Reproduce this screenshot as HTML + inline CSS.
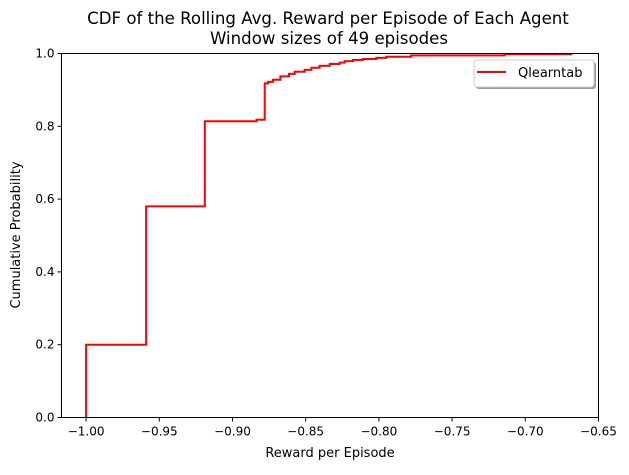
<!DOCTYPE html>
<html><head><meta charset="utf-8"><style>
body{margin:0;background:#fff;font-family:"Liberation Sans","DejaVu Sans",sans-serif;}
svg text{font-family:"DejaVu Sans","Liberation Sans",sans-serif;}
</style></head><body>
<svg id="c" width="629" height="470" viewBox="0 0 629 470" xmlns="http://www.w3.org/2000/svg">
<rect width="629" height="470" fill="#fff"/>
<text x="328" y="24" font-size="16.6" text-anchor="middle">CDF of the Rolling Avg. Reward per Episode of Each Agent</text>
<text x="329" y="44" font-size="16.6" text-anchor="middle">Window sizes of 49 episodes</text>
<g id="ticks"></g>
<path id="cdf" fill="none" stroke="#ff0000" stroke-width="2"/>
<rect x="61.5" y="53.5" width="537" height="364" fill="none" stroke="#000" stroke-width="1"/>
<text x="330" y="457" font-size="13" text-anchor="middle">Reward per Episode</text>
<text x="20" y="235" font-size="13" text-anchor="middle" transform="rotate(-90 20 235)">Cumulative Probability</text>
<g>
<rect x="476" y="62" width="120" height="27" rx="3" fill="#999"/>
<rect x="474" y="60" width="120" height="27" rx="3" fill="#fff" stroke="#ccc"/>
<line x1="477" y1="72" x2="506" y2="72" stroke="#ff0000" stroke-width="2"/>
<text x="518" y="77" font-size="13">Qlearntab</text>
</g>
</svg>
<script>
const stepX=[-1.0,-0.959,-0.9189,-0.8836,-0.878,-0.8757,-0.8723,-0.8673,-0.8614,-0.8575,-0.8507,-0.8461,-0.8405,-0.8336,-0.8268,-0.8234,-0.8177,-0.8109,-0.8018,-0.795,-0.7779,-0.7143];
const stepY=[0.2,0.58,0.814,0.818,0.918,0.922,0.928,0.937,0.944,0.95,0.955,0.961,0.966,0.971,0.975,0.979,0.982,0.985,0.988,0.991,0.995,0.998];
const endX=-0.668;
const xTicks=[-1.00,-0.95,-0.90,-0.85,-0.80,-0.75,-0.70,-0.65];
const yTicks=[0.0,0.2,0.4,0.6,0.8,1.0];
const L=61.5,R=598.5,T=53.5,B=417.5,x0=-1.0168,x1=-0.65;
const sx=v=>L+(v-x0)/(x1-x0)*(R-L);
const sy=v=>B-v*(B-T);
let d=`M${sx(stepX[0])},${sy(0)}`;
for(let i=0;i<stepX.length;i++){d+=` L${sx(stepX[i])},${sy(i?stepY[i-1]:0)} L${sx(stepX[i])},${sy(stepY[i])}`;}
d+=` L${sx(endX)},${sy(stepY[stepY.length-1])}`;
document.getElementById('cdf').setAttribute('d',d);
const g=document.getElementById('ticks');const NS='http://www.w3.org/2000/svg';
xTicks.forEach(v=>{const x=sx(v);
const l=document.createElementNS(NS,'line');l.setAttribute('x1',x);l.setAttribute('x2',x);l.setAttribute('y1',B);l.setAttribute('y2',B+4);l.setAttribute('stroke','#000');


g.appendChild(l);
const t=document.createElementNS(NS,'text');t.setAttribute('x',x);t.setAttribute('y',B+18);t.setAttribute('font-size','12');t.setAttribute('text-anchor','middle');t.textContent=v.toFixed(2).replace('-','\u2212');


g.appendChild(t);});
yTicks.forEach(v=>{const y=sy(v);
const l=document.createElementNS(NS,'line');l.setAttribute('x1',L-4);l.setAttribute('x2',L);l.setAttribute('y1',y);l.setAttribute('y2',y);l.setAttribute('stroke','#000');


g.appendChild(l);
const t=document.createElementNS(NS,'text');t.setAttribute('x',L-7);t.setAttribute('y',y+4);t.setAttribute('font-size','12');t.setAttribute('text-anchor','end');t.textContent=v.toFixed(1);


g.appendChild(t);});
</script>
</body></html>
